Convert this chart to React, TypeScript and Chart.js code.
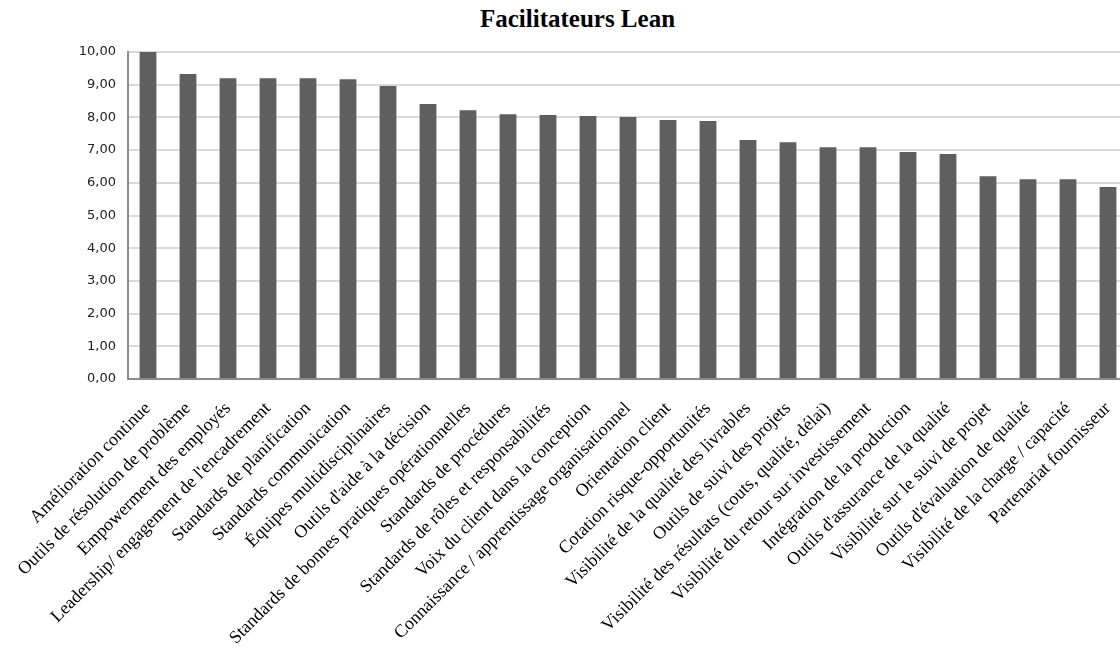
import React, { useEffect, useRef } from "react";
import { Chart, registerables } from "chart.js";

Chart.register(...registerables);

const title = "Facilitateurs Lean";

const categories = [
  "Amélioration continue",
  "Outils de résolution de problème",
  "Empowerment des employés",
  "Leadership/ engagement de l'encadrement",
  "Standards de planification",
  "Standards communication",
  "Équipes multidisciplinaires",
  "Outils d'aide à la décision",
  "Standards de bonnes pratiques opérationnelles",
  "Standards de procédures",
  "Standards de rôles et responsabilités",
  "Voix du client dans la conception",
  "Connaissance / apprentissage organisationnel",
  "Orientation client",
  "Cotation risque-opportunités",
  "Visibilité de la qualité des livrables",
  "Outils de suivi des projets",
  "Visibilité des résultats (couts, qualité, délai)",
  "Visibilité du retour sur investissement",
  "Intégration de la production",
  "Outils d'assurance de la qualité",
  "Visibilité sur le suivi de projet",
  "Outils d'évaluation de qualité",
  "Visibilité de la charge / capacité",
  "Partenariat fournisseur",
];

const values = [
  10.0, 9.33, 9.2, 9.2, 9.2, 9.17, 8.96, 8.41, 8.22, 8.1, 8.07, 8.04, 8.01,
  7.92, 7.89, 7.31, 7.24, 7.09, 7.09, 6.94, 6.88, 6.2, 6.11, 6.11, 5.87,
];

const yMin = 0;
const yMax = 10;
const yStep = 1;

export default function App() {
  const ref = useRef<HTMLCanvasElement | null>(null);

  useEffect(() => {
    if (!ref.current) return;
    const chart = new Chart(ref.current, {
      type: "bar",
      data: {
        labels: categories,
        datasets: [
          {
            data: values,
            backgroundColor: "#5f5f5f",
            borderWidth: 0,
            categoryPercentage: 1,
            barPercentage: 0.42,
          },
        ],
      },
      options: {
        responsive: false,
        animation: false,
        devicePixelRatio: 1,
        layout: { padding: { top: 52, left: 0, right: 0, bottom: 0 } },
        plugins: {
          legend: { display: false },
          title: { display: false },
          tooltip: { enabled: false },
        },
        scales: {
          x: {
            grid: { display: false, drawTicks: false },
            border: { display: true, color: "#8c8c8c", width: 2 },
            ticks: {
              autoSkip: false,
              minRotation: 45,
              maxRotation: 45,
              padding: 19,
              color: "#000000",
              font: { family: "'Liberation Serif', 'Times New Roman', serif", size: 18 },
            },
            afterFit: (s: any) => {
              s.height = 276;
              s.paddingLeft = 0;
              s.paddingRight = 0;
            },
          },
          y: {
            min: yMin,
            max: yMax,
            grid: { color: "#d9d9d9", lineWidth: 2, drawTicks: false },
            border: { display: true, color: "#8c8c8c", width: 2 },
            ticks: {
              stepSize: yStep,
              padding: 12,
              color: "#222222",
              font: { family: "'DejaVu Sans', sans-serif", size: 13 },
              callback: (v: any) => Number(v).toFixed(2).replace(".", ","),
            },
            afterFit: (s: any) => {
              s.width = 128;
            },
          },
        },
      },
    });
    return () => chart.destroy();
  }, []);

  return (
    <div
      style={{
        position: "fixed",
        left: 0,
        top: 0,
        width: 1120,
        height: 655,
        overflow: "hidden",
        background: "#ffffff",
      }}
    >
      <div
        style={{
          position: "absolute",
          left: 0,
          top: 6,
          width: 1155,
          textAlign: "center",
          fontFamily: "'Liberation Serif', 'Times New Roman', serif",
          fontWeight: "bold",
          fontSize: 25,
          lineHeight: "25px",
          color: "#000",
        }}
      >
        {title}
      </div>
      <canvas
        ref={ref}
        width={1128}
        height={655}
        style={{ position: "absolute", left: 0, top: 0, width: 1128, height: 655 }}
      />
    </div>
  );
}
